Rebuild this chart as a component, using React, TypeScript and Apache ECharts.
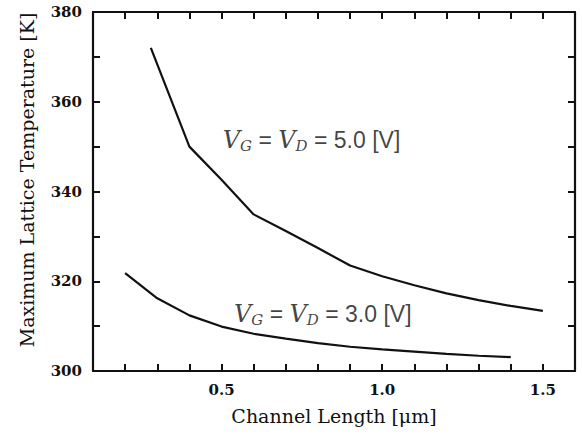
import React, { useEffect, useRef } from 'react';
import * as echarts from 'echarts';

const lengths5 = [0.28, 0.4, 0.5, 0.6, 0.7, 0.8, 0.9, 1.0, 1.1, 1.2, 1.3, 1.4, 1.5];
const temps5 = [372, 350, 342.6, 334.9, 331.2, 327.4, 323.5, 321.1, 319.1, 317.3, 315.8, 314.5, 313.4];

const lengths3 = [0.2, 0.3, 0.4, 0.5, 0.6, 0.7, 0.8, 0.9, 1.0, 1.1, 1.2, 1.3, 1.4];
const temps3 = [321.8, 316.2, 312.4, 309.9, 308.3, 307.2, 306.2, 305.4, 304.8, 304.3, 303.8, 303.4, 303.1];

const annotations = [
  { x: 0.78, y: 351.5, volts: '5.0' },
  { x: 0.815, y: 312.6, volts: '3.0' },
];

const INK = '#111';
const SERIF = '"DejaVu Serif", serif';

export default function App() {
  const ref = useRef<HTMLDivElement>(null);
  useEffect(() => {
    const chart = echarts.init(ref.current!, null, { renderer: 'svg' });
    const tickStyle = { inside: true, length: 7, lineStyle: { color: INK, width: 2 } };
    const lineStyle = { lineStyle: { color: INK, width: 2.2 } };
    const rich = {
      v: { fontFamily: SERIF, fontStyle: 'italic', fontSize: 24, color: INK },
      s: { fontFamily: SERIF, fontStyle: 'italic', fontSize: 15, color: INK, padding: [12, 0, 0, 0] },
      n: { fontFamily: '"Liberation Sans", sans-serif', fontSize: 23, color: INK },
    };
    chart.setOption({
      animation: false,
      backgroundColor: '#fff',
      grid: { left: 93, right: 7, top: 12, bottom: 71 },
      xAxis: [
        {
          type: 'value', min: 0.1, max: 1.6, interval: 0.1, position: 'bottom',
          axisLine: lineStyle, axisTick: tickStyle, splitLine: { show: false },
          axisLabel: {
            fontFamily: SERIF, fontWeight: 'bold', fontSize: 15, color: INK, margin: 11,
            formatter: (v: number) => (Math.abs(v * 2 - Math.round(v * 2)) < 1e-6 ? v.toFixed(1) : ''),
          },
          name: 'Channel Length [μm]', nameLocation: 'middle', nameGap: 35,
          nameTextStyle: { fontFamily: SERIF, fontSize: 19, color: INK },
        },
        {
          type: 'value', min: 0.1, max: 1.6, interval: 0.1, position: 'top',
          axisLine: lineStyle, axisTick: tickStyle, splitLine: { show: false }, axisLabel: { show: false },
        },
      ],
      yAxis: [
        {
          type: 'value', min: 300, max: 380, interval: 10, position: 'left',
          axisLine: lineStyle, axisTick: tickStyle, splitLine: { show: false },
          axisLabel: {
            fontFamily: SERIF, fontWeight: 'bold', fontSize: 15, color: INK, margin: 11, padding: [10, 0, 0, 0],
            formatter: (v: number) => (Math.round(v) % 20 === 0 ? String(Math.round(v)) : ''),
          },
        },
        {
          type: 'value', min: 300, max: 380, interval: 10, position: 'right',
          axisLine: lineStyle, axisTick: tickStyle, splitLine: { show: false }, axisLabel: { show: false },
        },
      ],
      graphic: [
        {
          type: 'text', x: 27, y: 180, rotation: Math.PI / 2,
          style: {
            text: 'Maximum Lattice Temperature [K]', font: `19px ${SERIF}`, fill: INK,
            align: 'center', verticalAlign: 'middle',
          },
        },
      ],
      series: [
        {
          type: 'line', data: lengths5.map((x, i) => [x, temps5[i]]), showSymbol: false,
          lineStyle: { color: INK, width: 2.2 }, itemStyle: { color: INK },
        },
        {
          type: 'line', data: lengths3.map((x, i) => [x, temps3[i]]), showSymbol: false,
          lineStyle: { color: INK, width: 2.2 }, itemStyle: { color: INK },
        },
        {
          type: 'scatter', silent: true, symbolSize: 1, itemStyle: { color: 'rgba(0,0,0,0)' },
          data: annotations.map((a) => ({
            value: [a.x, a.y],
            label: {
              show: true, position: 'inside', align: 'center', verticalAlign: 'middle',
              formatter: `{v|V}{s|G}{n| = }{v|V}{s|D}{n| = ${a.volts} [V]}`,
              rich,
            },
          })),
        },
      ],
    });
    return () => chart.dispose();
  }, []);
  return (
    <div
      ref={ref}
      style={{ position: 'fixed', left: 0, top: 0, width: 582, height: 442, background: '#fff' }}
    />
  );
}
